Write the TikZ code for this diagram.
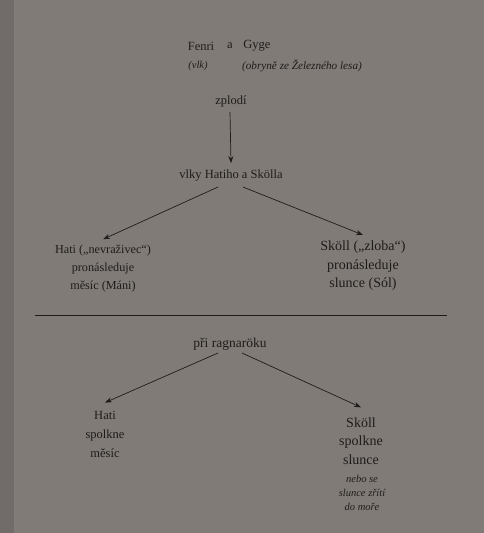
\documentclass[tikz,border=0pt]{standalone}
\usepackage{fontspec}
\setmainfont{Liberation Serif}
\usetikzlibrary{arrows.meta}
\definecolor{page}{RGB}{128,123,119}
\definecolor{ink}{RGB}{30,28,27}
\tikzset{
  lbl/.style={text=ink, inner sep=0pt, align=center, font=\fontsize{12.5}{19}\selectfont},
  lblb/.style={lbl, font=\fontsize{14}{18.5}\selectfont},
  sml/.style={lbl, font=\fontsize{12.2}{18}\selectfont},
  itl/.style={lbl, font=\fontsize{10.5}{14}\selectfont\itshape},
  arr/.style={draw=ink, line width=0.7pt, -{Stealth[length=7pt,width=5pt]}},
}
\begin{document}
\begin{tikzpicture}[x=1pt,y=-1pt]
\fill[page] (0,0) rectangle (484,533);
\fill[page!88!black] (0,0) rectangle (14,533);
\useasboundingbox (0,0) rectangle (484,533);

\node[lbl] (fenri) at (201,46) {Fenri};
\node[lbl] (a) at (230,46) {a};
\node[lbl] (gyge) at (257,46) {Gyge};
\node[itl] (vlk) at (198,66) {(vlk)};
\node[itl, font=\fontsize{11.2}{14}\selectfont\itshape] (obr) at (302,66) {(obryně ze Železného lesa)};
\node[lbl] (zplodi) at (231,101) {zplodí};
\node[lbl] (vlky) at (231,176) {vlky Hatiho a Skölla};

\node[sml] (hati1) at (103,269) {Hati („nevraživec“)\\pronásleduje\\měsíc (Máni)};
\node[lblb] (skoll1) at (363,266) {Sköll („zloba“)\\pronásleduje\\slunce (Sól)};

\draw[ink, line width=0.7pt] (35,315) coordinate (l1) -- (447,315) coordinate (l2);

\node[lbl, font=\fontsize{13.5}{19}\selectfont] (rag) at (230,344) {při ragnaröku};
\node[sml, font=\fontsize{12.5}{19}\selectfont] (hati2) at (105,434) {Hati\\spolkne\\měsíc};
\node[lblb] (skoll2) at (361,441) {Sköll\\spolkne\\slunce};
\node[itl] (nebo) at (362,493) {nebo se\\slunce zřítí\\do moře};

\coordinate (z0) at (230,112);
\coordinate (v1) at (218,187);
\coordinate (v2) at (243,187);
\coordinate (r1) at (218,353);
\coordinate (r2) at (242,353);
\draw[arr] (z0) -- ([yshift=7pt]vlky.north);
\draw[arr] (v1) -- ([yshift=6pt]hati1.north);
\draw[arr] (v2) -- ([yshift=6pt]skoll1.north);
\draw[arr] (r1) -- ([yshift=8pt]hati2.north);
\draw[arr] (r2) -- ([yshift=10pt]skoll2.north);
\end{tikzpicture}
\end{document}
